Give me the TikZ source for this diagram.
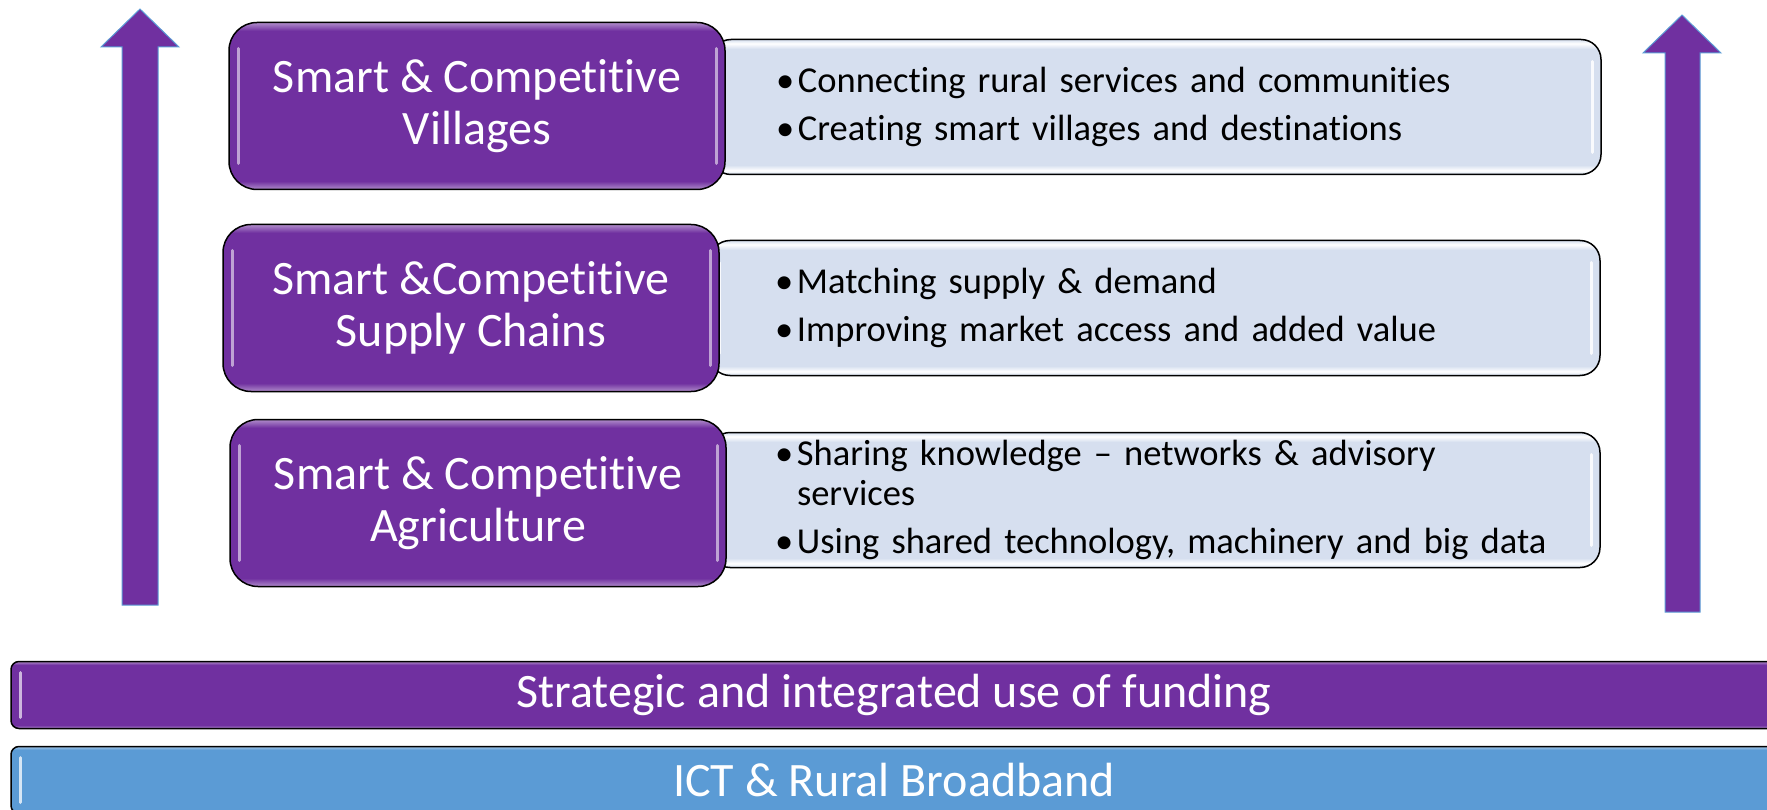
\documentclass[tikz,border=0pt]{standalone}
\usepackage{fontspec}
\setmainfont{Carlito}[Ligatures=CommonOff]

\definecolor{smartpurple}{HTML}{7030A0}
\definecolor{infoblue}{HTML}{D6DFEF}
\definecolor{bandblue}{HTML}{5B9BD5}

% glossy edges along the top and bottom of the boxes
\pgfdeclareverticalshading{purplebevel}{100bp}{color(0bp)=(smartpurple!55!white); color(25bp)=(smartpurple!55!white); color(27.5bp)=(smartpurple); color(72.5bp)=(smartpurple); color(75bp)=(smartpurple!55!white); color(100bp)=(smartpurple!55!white)}
\pgfdeclareverticalshading{bluebevel}{100bp}{color(0bp)=(bandblue!55!white); color(25bp)=(bandblue!55!white); color(27.5bp)=(bandblue); color(72.5bp)=(bandblue); color(75bp)=(bandblue!55!white); color(100bp)=(bandblue!55!white)}
\pgfdeclareverticalshading{infobevel}{100bp}{color(0bp)=(infoblue); color(25bp)=(infoblue); color(26.5bp)=(white); color(28.5bp)=(infoblue); color(71.5bp)=(infoblue); color(73.5bp)=(white); color(75bp)=(infoblue); color(100bp)=(infoblue)}

\tikzset{
    bevel/.style 2 args={path picture={
        \draw[#1, line width=3pt, line cap=round]
            ([xshift=9pt,yshift=-#2]path picture bounding box.north west) -- ([xshift=9pt,yshift=#2]path picture bounding box.south west)
            ([xshift=-9pt,yshift=-#2]path picture bounding box.north east) -- ([xshift=-9pt,yshift=#2]path picture bounding box.south east);
    }},
}
\tikzstyle{level}=[draw=black, line width=1.5pt, shade, shading=purplebevel, bevel={smartpurple!45!white}{26pt}, rounded corners=28pt, minimum width=496pt, minimum height=167pt, text=white, align=center, font=\fontsize{48}{52}\selectfont]
\tikzstyle{info}=[draw=black, line width=1.5pt, shade, shading=infobevel, bevel={white!85!infoblue}{22pt}, rounded corners=20pt, minimum width=890pt, minimum height=135pt, text width=760pt, inner xsep=0pt, align=left, font=\fontsize{36.5}{40}\selectfont]
\tikzstyle{band}=[draw=black, line width=1.5pt, shade, rounded corners=8pt, minimum width=1766pt, minimum height=67pt, text=white, font=\fontsize{48}{52}\selectfont]
\tikzstyle{growth}=[fill=smartpurple, draw=bandblue, line width=1pt]

\newcommand{\bul}{\makebox[22pt][l]{\textbullet}}

\begin{document}
\begin{tikzpicture}[x=1pt,y=-1pt]
    \useasboundingbox (0,0) rectangle (1767,810);
    \clip (0,0) rectangle (1767,810);
    % arrows on both sides
    \draw[growth] (122,605) -- (122,47) -- (101,47) -- (140,9) -- (179,47) -- (158,47) -- (158,605) -- cycle;
    \draw[growth] (1665,612) -- (1665,53) -- (1643,53) -- (1682,15) -- (1721,53) -- (1700,53) -- (1700,612) -- cycle;
    % bullet boxes go first, the titles sit on top of them
    \node[info] (villagesinfo) at (1156,107) {\bul Connecting rural services and communities\\[8pt]\bul Creating smart villages and destinations};
    \node[info] (chainsinfo) at (1155,308) {\bul Matching supply \& demand\\[8pt]\bul Improving market access and added value};
    \node[info] (agriinfo) at (1155,500) {\bul Sharing knowledge -- networks \& advisory\\\hspace*{22pt}services\\[8pt]\mbox{\bul Using shared technology, machinery and big data}};
    \node[level] (villages) at (477,106) {Smart \& Competitive\\Villages};
    \node[level] (chains) at (471,308) {Smart \&Competitive\\Supply Chains};
    \node[level] (agri) at (478,503) {Smart \& Competitive\\Agriculture};
    % bottom bars
    \node[band, shading=purplebevel, bevel={smartpurple!35!white}{11pt}] (funding) at (894,695) {Strategic and integrated use of funding};
    \node[band, shading=bluebevel, bevel={bandblue!25!white}{11pt}] (broadband) at (894,780) {ICT \& Rural Broadband};
\end{tikzpicture}
\end{document}
